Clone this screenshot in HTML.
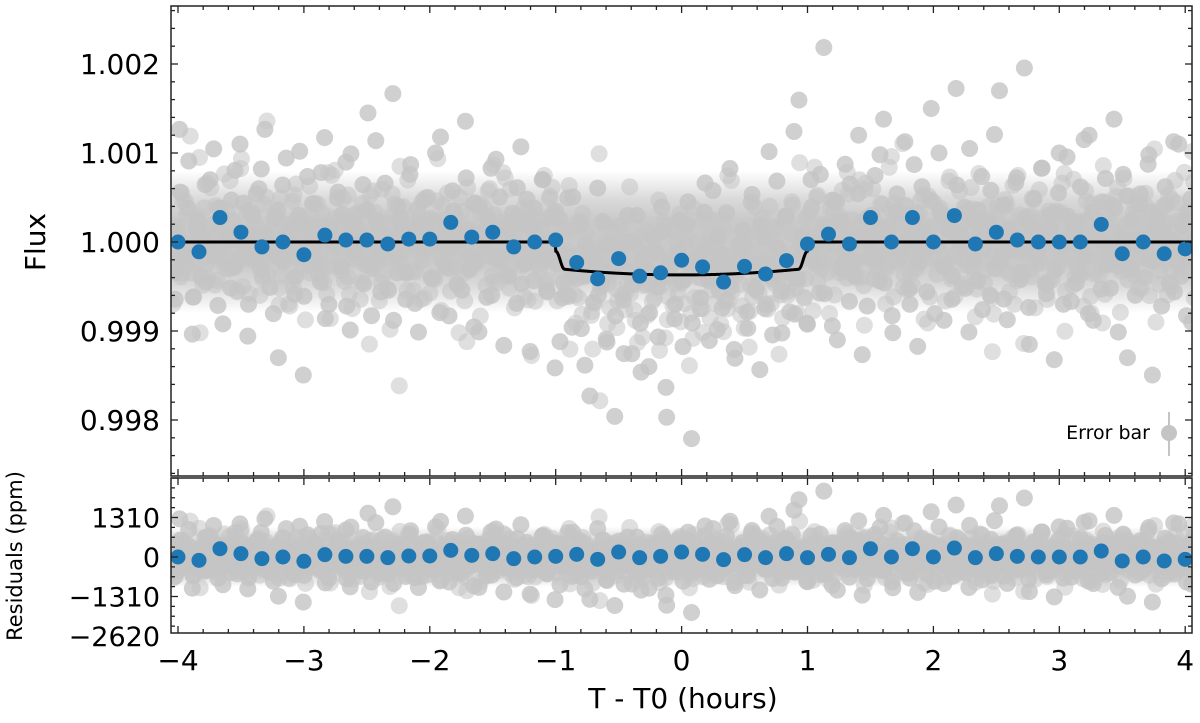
<!DOCTYPE html>
<html><head><meta charset="utf-8"><style>
body{margin:0;background:#fff}
svg{display:block;font-family:"DejaVu Sans","Liberation Sans",sans-serif}
</style></head><body>
<svg id="c" width="1200" height="723" viewBox="0 0 1200 723"></svg>
<script>
const binResid=[0,-110,275,110,-55,0,-143,77,22,22,-22,33,33,220,55,110,-55,0,22,88,-77,165,-22,22,165,88,-88,77,-22,110,-22,88,-22,275,0,275,0,297,-22,110,22,0,0,0,198,-132,0,-132,-77];
const rawResid=[120,-340,560,-80,910,-620,240,30,-450,700,-150,380,-920,60,470,-260,1100,-30,-700,310,
-180,820,90,-510,260,-1300,640,-90,150,-390,1020,-610,20,430,-240,780,-860,180,-40,560,
310,-720,990,-130,70,-470,1450,-300,240,-560,660,-20,-880,400,130,-350,870,-690,210,-60,
500,-410,30,1180,-270,-830,350,90,-540,720,-160,440,-1010,60,280,-600,930,-210,150,-380,
-80,610,-470,240,-1230,380,-140,700,-560,20,450,-920,160,-300,820,-90,-650,300,-1400,110,
-260,570,-780,40,-480,200,-900,360,-120,660,-1100,80,-430,250,-700,490,-1600,140,-330,610,
-60,820,-540,190,-260,1030,-740,90,420,-380,690,-150,-950,330,70,-620,880,-200,530,-410,
1350,-90,260,-700,610,-30,-500,1900,140,-820,390,-250,760,-580,20,470,-1100,230,-160,650,
-380,1200,60,-720,300,-140,980,-460,180,-1020,540,-60,410,-700,870,-240,120,-560,1500,-30,
340,-880,200,-380,640,90,-520,1050,-190,360,-760,60,580,-300,1700,-640,150,-90,720,-420,
260,-1150,480,-40,830,-580,140,-320,1000,-700,290,70,-460,620,-180,1200,-880,30,450,-260,
-520,380,-100,760,-1300,240,-60,540,-400,980,-210,160,-720,420,20,-560,1100,-130,330,-900];
const passScale=[1.0,0.7,-0.85,0.5,-0.6,1.15];
const xTicks=[-4,-3,-2,-1,0,1,2,3,4];
const fluxTicks=[0.998,0.999,1.000,1.001,1.002];
const fluxTickLabels=["0.998","0.999","1.000","1.001","1.002"];
const residTicks=[-2620,-1310,0,1310];
const residTickLabels=["\u22122620","\u22121310","0","1310"];
const transitParams=[-1.0,1.0,0.00037,0.07];

const svg=document.getElementById('c');
const NS='http://www.w3.org/2000/svg';
function mk(tag,attrs,parent){const e=document.createElementNS(NS,tag);for(const k in attrs)e.setAttribute(k,attrs[k]);(parent||svg).appendChild(e);return e;}
const L=171,R=1192,T1=6,B1=476,T2=478,B2=633;
const X=t=>178+(t+4)*125.9;
const Y1=f=>242-(f-1)*89000;
const Y2=r=>557-r*39.5/1310;
function model(t){const[a,b,d,w]=transitParams;if(t<=a||t>=b)return 1;const e=Math.min(t-a,b-t);const ing=Math.min(1,e/w);const s=Math.sin(ing*Math.PI/2);const tc=t/((b-a)/2);return 1-d*(0.8+0.2*(1-tc*tc))*(ing<1?0.35+0.65*s*s:1);}
const defs=mk('defs',{});
const cp1=mk('clipPath',{id:'cp1'},defs);mk('rect',{x:L,y:T1,width:R-L,height:B1-T1},cp1);
const cpb=mk('clipPath',{id:'cp2'},defs);mk('rect',{x:L,y:T2,width:R-L,height:B2-T2},cpb);
const lg=mk('linearGradient',{id:'bg',x1:0,y1:0,x2:0,y2:1},defs);
[[0,0],[0.2,0.7],[0.35,1],[0.65,1],[0.8,0.7],[1,0]].forEach(s=>mk('stop',{offset:s[0],'stop-color':'#c9c9c9','stop-opacity':s[1]},lg));
const g1=mk('g',{'clip-path':'url(#cp1)'});
const g2=mk('g',{'clip-path':'url(#cp2)'});
mk('rect',{x:L,y:Y1(1.0008),width:R-L,height:Y1(0.9992)-Y1(1.0008),fill:'url(#bg)'},g1);
mk('rect',{x:L,y:Y2(1000),width:R-L,height:Y2(-1000)-Y2(1000),fill:'url(#bg)'},g2);
const N=rawResid.length;
passScale.forEach((ps,p)=>{rawResid.forEach((r0,i)=>{const r=rawResid[(i+p*47)%N]*ps;const t=-4.05+8.1*(i+p/passScale.length)/(N-1);
 const op=Math.abs(ps)>=0.99?0.8:0.55;
 const c=mk('circle',{cx:X(t),cy:Y1(model(t)+r*1e-6),r:8.5,fill:'#c4c4c4','fill-opacity':op},g1);
 
 
 const c2=mk('circle',{cx:X(t),cy:Y2(r),r:8.5,fill:'#c4c4c4','fill-opacity':op},g2);
 
 
});});
let d='';for(let k=0;k<=1600;k++){const t=-4.1+8.2*k/1600;d+=(k?'L':'M')+X(t).toFixed(1)+' '+Y1(model(t)).toFixed(2);}
const ml=mk('path',{d:d,fill:'none',stroke:'#000','stroke-width':3},g1);


binResid.forEach((r,i)=>{const t=-4+8*i/(binResid.length-1);
 const c=mk('circle',{cx:X(t),cy:Y1(model(t)+r*1e-6),r:7.5,fill:'#1f77b4'},g1);
 
 
 const c2=mk('circle',{cx:X(t),cy:Y2(r),r:7.5,fill:'#1f77b4'},g2);
 
 
});
[[T1,B1],[T2,B2]].forEach(([t,b],pi)=>{const f=mk('rect',{x:L,y:t,width:R-L,height:b-t,fill:'none',stroke:'#222','stroke-width':1.5});
 
 
 for(let k=-20;k<=20;k++){const v=k*0.2;const x=X(v);if(x<L||x>R)continue;const len=k%5===0?7:4;
  mk('line',{x1:x,x2:x,y1:b,y2:b-len,stroke:'#222','stroke-width':1.3});
  mk('line',{x1:x,x2:x,y1:t,y2:t+len,stroke:'#222','stroke-width':1.3});}
});
for(let k=-20;k<=20;k++){const v=1+k*0.0002;const y=Y1(v);if(y<T1||y>B1)continue;const len=k%5===0?7:4;
 mk('line',{x1:L,x2:L+len,y1:y,y2:y,stroke:'#222','stroke-width':1.3});mk('line',{x1:R,x2:R-len,y1:y,y2:y,stroke:'#222','stroke-width':1.3});}
for(let k=-12;k<=12;k++){const v=k*327.5;const y=Y2(v);if(y<T2||y>B2)continue;const len=k%4===0?7:4;
 mk('line',{x1:L,x2:L+len,y1:y,y2:y,stroke:'#222','stroke-width':1.3});mk('line',{x1:R,x2:R-len,y1:y,y2:y,stroke:'#222','stroke-width':1.3});}
function txt(s,x,y,size,anchor,name,rot){const e=mk('text',{x:x,y:y,'font-size':size,'text-anchor':anchor||'middle',fill:'#000'});if(rot)e.setAttribute('transform',`rotate(-90 ${x} ${y})`);e.textContent=s;
 
 return e;}
xTicks.forEach(v=>txt(v<0?'\u2212'+(-v):String(v),X(v),670,28,'middle','x-tick-label'));
fluxTicks.forEach((v,i)=>txt(fluxTickLabels[i],160,Y1(v)+10,28,'end','flux-tick-label'));
residTicks.forEach((v,i)=>txt(residTickLabels[i],160,Y2(v)+10,27,'end','residual-tick-label'));
txt('Flux',45,242,28,'middle','y-axis-title',true);
txt('Residuals (ppm)',22,556,21,'middle','residual-axis-title',true);
txt('T - T0 (hours)',683,708,28,'middle','x-axis-title');
const lgd=mk('g',{});
const lt=mk('text',{x:1150,y:439,'font-size':19,'text-anchor':'end',fill:'#000'},lgd);lt.textContent='Error bar';
mk('line',{x1:1169,x2:1169,y1:412,y2:456,stroke:'#c4c4c4','stroke-width':2},lgd);
mk('circle',{cx:1169,cy:433,r:8,fill:'#c4c4c4'},lgd);
</script>
</body></html>
